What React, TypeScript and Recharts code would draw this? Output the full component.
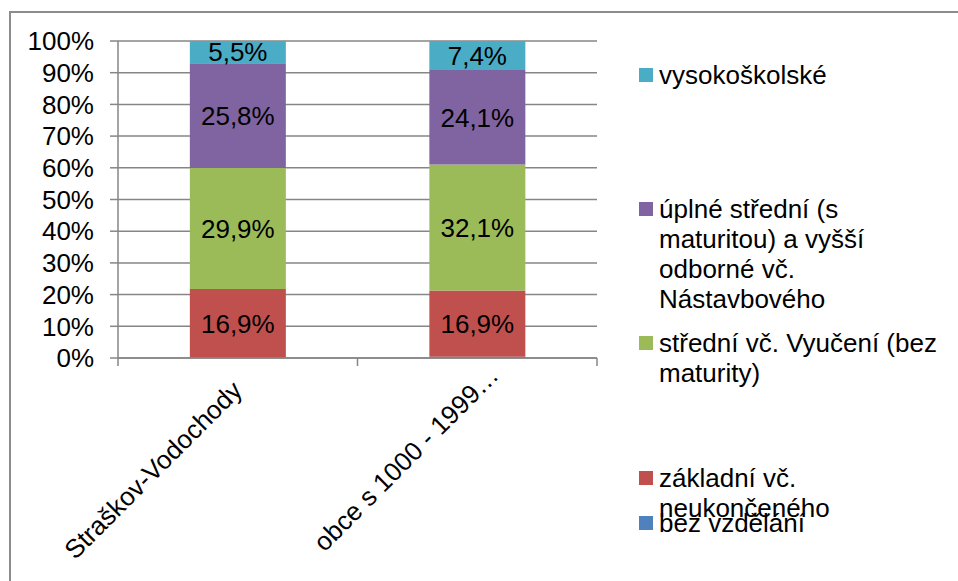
import React from 'react'
import { BarChart, Bar, XAxis, YAxis, CartesianGrid, LabelList, Legend } from 'recharts'

const CATEGORIES = ['Straškov-Vodochody', 'obce s 1000 - 1999…']
const BEZ_VZDELANI = [0.1, 0.3]
const ZAKLADNI = [16.9, 16.9]
const STREDNI_VYUCENI = [29.9, 32.1]
const UPLNE_STREDNI = [25.8, 24.1]
const VYSOKOSKOLSKE = [5.5, 7.4]
const Y_TICKS = [0, 0.1, 0.2, 0.3, 0.4, 0.5, 0.6, 0.7, 0.8, 0.9, 1]

const SERIES = [
  { key: 'bez', name: 'bez vzdělání', color: '#4F81BD', values: BEZ_VZDELANI, label: false },
  { key: 'zakladni', name: 'základní vč. neukončeného', color: '#C0504D', values: ZAKLADNI, label: true },
  { key: 'stredni', name: 'střední vč. Vyučení (bez maturity)', color: '#9BBB59', values: STREDNI_VYUCENI, label: true },
  {
    key: 'uplne',
    name: 'úplné střední (s maturitou) a vyšší odborné vč. Nástavbového',
    color: '#8064A2',
    values: UPLNE_STREDNI,
    label: true,
  },
  { key: 'vysoko', name: 'vysokoškolské', color: '#4BACC6', values: VYSOKOSKOLSKE, label: true },
]

const data = CATEGORIES.map((name, i) => {
  const row: Record<string, number | string> = { name }
  SERIES.forEach(s => {
    row[s.key] = s.values[i]
  })
  return row
})

const FONT = '"Liberation Sans", Arial, sans-serif'
const FONT_SIZE = 26
const GRID = '#868686'
const LEGEND_TOPS = [75, 209, 343, 478, 523]
// where the end of each rotated category label sits, relative to its tick
const LABEL_SHIFT = [
  [6, 34],
  [23, 19],
]

const fmt = (v: number) => `${v.toFixed(1).replace('.', ',')}%`

function CategoryTick(props: any) {
  const { x, y, payload, index, visibleTicksCount } = props
  const off = payload?.offset ?? 119.75
  const [sx, sy] = LABEL_SHIFT[index] ?? [20, 22]
  const ax = x + sx
  const ay = y + sy
  return (
    <g>
      <line x1={x - off} y1={y} x2={x - off} y2={y + 8} stroke={GRID} strokeWidth={1.5} />
      {index === visibleTicksCount - 1 && (
        <line x1={x + off} y1={y} x2={x + off} y2={y + 8} stroke={GRID} strokeWidth={1.5} />
      )}
      <text
        x={ax}
        y={ay}
        transform={`rotate(-45, ${ax}, ${ay})`}
        textAnchor="end"
        fontSize={FONT_SIZE}
        fontFamily={FONT}
        fill="#000"
      >
        {payload.value}
      </text>
    </g>
  )
}

function LegendContent() {
  const items = [...SERIES].reverse()
  return (
    <div style={{ position: 'relative', width: 958, height: 581, fontFamily: FONT }}>
      {items.map((s, i) => (
        <div
          key={s.key}
          style={{ position: 'absolute', left: 639, top: LEGEND_TOPS[i] - 15, display: 'flex', alignItems: 'flex-start' }}
        >
          <span style={{ width: 14, height: 14, background: s.color, marginTop: 8, marginRight: 6, flex: 'none' }} />
          <span style={{ width: 288, lineHeight: '30px', fontSize: FONT_SIZE, color: '#000' }}>{s.name}</span>
        </div>
      ))}
    </div>
  )
}

export default function App() {
  return (
    <div style={{ position: 'absolute', left: 0, top: 0, width: 958, height: 581, overflow: 'hidden', background: '#fff' }}>
      <div
        style={{
          position: 'absolute',
          left: 9,
          top: 11,
          width: 1000,
          height: 700,
          border: '2px solid #8c8c8c',
          boxSizing: 'border-box',
        }}
      />
      <div style={{ position: 'absolute', left: 0, top: 0 }}>
        <BarChart
          width={958}
          height={581}
          data={data}
          stackOffset="expand"
          barCategoryGap="30%"
          margin={{ top: 41, right: 361, bottom: 23, left: 0 }}
        >
          <CartesianGrid vertical={false} stroke={GRID} strokeWidth={1.5} />
          <XAxis
            dataKey="name"
            height={200}
            interval={0}
            tickLine={false}
            tickSize={0}
            tickMargin={0}
            axisLine={{ stroke: GRID, strokeWidth: 1.5 }}
            tick={<CategoryTick />}
          />
          <YAxis
            width={118}
            domain={[0, 1]}
            ticks={Y_TICKS}
            interval={0}
            tickFormatter={(v: number) => `${Math.round(v * 100)}%`}
            tickSize={8}
            tickMargin={16}
            tickLine={{ stroke: GRID, strokeWidth: 1.5 }}
            axisLine={{ stroke: GRID, strokeWidth: 1.5 }}
            tick={{ fontSize: FONT_SIZE, fontFamily: FONT, fill: '#000' }}
          />
          {SERIES.map(s => (
            <Bar key={s.key} dataKey={s.key} name={s.name} stackId="a" fill={s.color} isAnimationActive={false}>
              {s.label && (
                <LabelList
                  dataKey={s.key}
                  position="center"
                  formatter={(v: any) => fmt(Number(v))}
                  fontSize={FONT_SIZE}
                  fontFamily={FONT}
                  fill="#000"
                />
              )}
            </Bar>
          ))}
          <Legend
            layout="horizontal"
            verticalAlign="middle"
            align="center"
            wrapperStyle={{ left: 0, top: 0, width: 958, height: 581 }}
            content={<LegendContent />}
          />
        </BarChart>
      </div>
    </div>
  )
}
